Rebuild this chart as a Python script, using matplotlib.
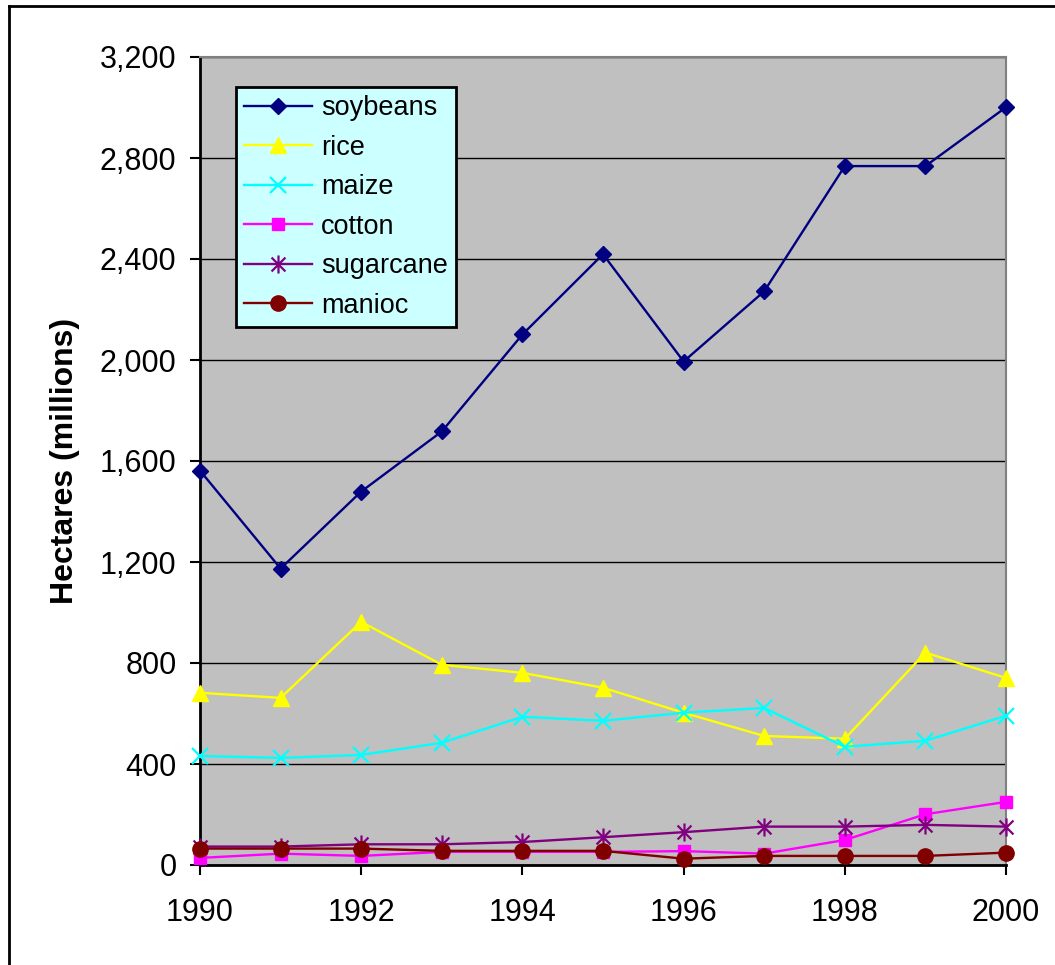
import matplotlib
matplotlib.use("Agg")
import matplotlib.pyplot as plt
from matplotlib.path import Path
from matplotlib.lines import Line2D
from matplotlib.ticker import FuncFormatter

years = [1990, 1991, 1992, 1993, 1994, 1995, 1996, 1997, 1998, 1999, 2000]
soybeans = [1562, 1174, 1479, 1717, 2101, 2419, 1994, 2272, 2768, 2768, 3001]
rice = [682, 662, 963, 793, 761, 702, 603, 511, 500, 841, 741]
maize = [432, 424, 436, 484, 587, 571, 603, 622, 468, 492, 591]
cotton = [28, 45, 36, 52, 52, 52, 55, 45, 99, 201, 250]
sugarcane = [73, 73, 82, 82, 91, 110, 130, 152, 152, 159, 152]
manioc = [65, 65, 65, 56, 56, 56, 25, 36, 36, 36, 49]

series_names = ["soybeans", "rice", "maize", "cotton", "sugarcane", "manioc"]
xticks = [1990, 1992, 1994, 1996, 1998, 2000]
yticks = [0, 400, 800, 1200, 1600, 2000, 2400, 2800, 3200]

plt.rcParams['font.family'] = ['Liberation Sans', 'DejaVu Sans']

star = Path([(-1, -1), (1, 1), (-1, 1), (1, -1), (0, -1.3), (0, 1.3)],
            [Path.MOVETO, Path.LINETO, Path.MOVETO, Path.LINETO, Path.MOVETO, Path.LINETO])

styles = [
    dict(color="#000080", marker="D", ms=8, mfc="#000080", mec="#000080"),
    dict(color="#FFFF00", marker="^", ms=12, mfc="#FFFF00", mec="#FFFF00"),
    dict(color="#00FFFF", marker="x", ms=11, mew=1.6),
    dict(color="#FF00FF", marker="s", ms=9, mfc="#FF00FF", mec="#FF00FF"),
    dict(color="#800080", marker=star, ms=13, mew=1.6, mfc="none"),
    dict(color="#800000", marker="o", ms=11, mfc="#800000", mec="#800000"),
]
data = [soybeans, rice, maize, cotton, sugarcane, manioc]

fig = plt.figure(figsize=(10.55, 9.65), dpi=100)
ax = fig.add_axes([200/1055, 1-865/965, 806/1055, 808/965])
ax.set_facecolor("#C0C0C0")

for name, vals, st in zip(series_names, data, styles):
    ax.plot(years, vals, label=name, lw=1.7, clip_on=False, zorder=3, **st)

ax.set_xlim(1990, 2000)
ax.set_ylim(0, 3200)
ax.set_xticks(xticks)
ax.set_xticklabels([str(x) for x in xticks])
ax.set_yticks(yticks)
ax.yaxis.set_major_formatter(FuncFormatter(lambda v, p: f"{int(v):,}"))
ax.grid(axis='y', color='black', lw=1.0, zorder=1)
ax.set_axisbelow(True)

for s in ['top', 'right']:
    ax.spines[s].set_color('#808080')
    ax.spines[s].set_linewidth(1.5)
for s in ['left', 'bottom']:
    ax.spines[s].set_color('black')
    ax.spines[s].set_linewidth(2)

ax.tick_params(axis='both', direction='out', length=7, width=1.5, labelsize=22, colors='black')
ax.tick_params(axis='y', pad=10)
ax.tick_params(axis='x', pad=17)
ax.set_ylabel("Hectares (millions)", fontsize=23, fontweight='bold', labelpad=14)

leg = ax.legend(loc='upper left', bbox_to_anchor=(0.0447, 0.963), borderaxespad=0,
                fontsize=19.5, frameon=True, fancybox=False, handlelength=2.5,
                handletextpad=0.35, labelspacing=0.5, borderpad=0.3)
leg.get_frame().set_facecolor("#CCFFFF")
leg.get_frame().set_edgecolor("black")
leg.get_frame().set_linewidth(2)
leg.get_frame().set_alpha(1)

# figure border (left and top only visible)
fig.add_artist(Line2D([9/1055, 9/1055], [1-6/965, -0.01], transform=fig.transFigure, color='black', lw=2))
fig.add_artist(Line2D([9/1055, 1.01], [1-6/965, 1-6/965], transform=fig.transFigure, color='black', lw=2))

fig.savefig("out.png", dpi=100)
